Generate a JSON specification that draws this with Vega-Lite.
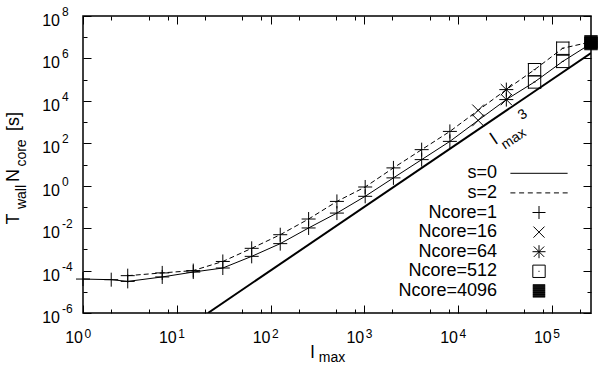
{
  "$schema": "https://vega.github.io/schema/vega-lite/v6.json",
  "width": 508,
  "height": 297,
  "autosize": {"type": "none"},
  "padding": {"left": 83, "top": 16, "right": 9, "bottom": 63},
  "background": "white",
  "config": {
    "font": "Liberation Sans",
    "view": {"stroke": "black", "strokeWidth": 1.5},
    "axis": {
      "grid": false,
      "domain": false,
      "labelColor": "black",
      "titleColor": "black",
      "tickColor": "black",
      "tickWidth": 1,
      "titleFontWeight": "normal",
      "labelFont": "Liberation Sans",
      "titleFont": "Liberation Sans",
      "labelOverlap": false,
      "labelFlush": false,
      "labelBound": false
    }
  },
  "data": {
    "values": [
      {"l": 1, "T": 3.98e-5, "s": 0, "key": "Ncore=1"},
      {"l": 2, "T": 3.72e-5, "s": 0, "key": "Ncore=1"},
      {"l": 3, "T": 3.09e-5, "s": 0, "key": "Ncore=1"},
      {"l": 7, "T": 5.01e-5, "s": 0, "key": "Ncore=1"},
      {"l": 15, "T": 8.51e-5, "s": 0, "key": "Ncore=1"},
      {"l": 31, "T": 1.32e-4, "s": 0, "key": "Ncore=1"},
      {"l": 63, "T": 4.68e-4, "s": 0, "key": "Ncore=1"},
      {"l": 127, "T": 1.86e-3, "s": 0, "key": "Ncore=1"},
      {"l": 255, "T": 1.02e-2, "s": 0, "key": "Ncore=1"},
      {"l": 511, "T": 5.13e-2, "s": 0, "key": "Ncore=1"},
      {"l": 1023, "T": 0.316, "s": 0, "key": "Ncore=1"},
      {"l": 2047, "T": 2.34, "s": 0, "key": "Ncore=1"},
      {"l": 4095, "T": 17.0, "s": 0, "key": "Ncore=1"},
      {"l": 8191, "T": 123, "s": 0, "key": "Ncore=1"},
      {"l": 16383, "T": 1202, "s": 0, "key": "Ncore=16"},
      {"l": 32767, "T": 11480, "s": 0, "key": "Ncore=64"},
      {"l": 65535, "T": 77600, "s": 0, "key": "Ncore=512"},
      {"l": 131071, "T": 724000, "s": 0, "key": "Ncore=512"},
      {"l": 262143, "T": 5010000, "s": 0, "key": "Ncore=4096"},
      {"l": 3, "T": 5.75e-5, "s": 2, "key": "Ncore=1"},
      {"l": 7, "T": 7.76e-5, "s": 2, "key": "Ncore=1"},
      {"l": 15, "T": 1.0e-4, "s": 2, "key": "Ncore=1"},
      {"l": 31, "T": 2.69e-4, "s": 2, "key": "Ncore=1"},
      {"l": 63, "T": 1.12e-3, "s": 2, "key": "Ncore=1"},
      {"l": 127, "T": 4.90e-3, "s": 2, "key": "Ncore=1"},
      {"l": 255, "T": 2.69e-2, "s": 2, "key": "Ncore=1"},
      {"l": 511, "T": 0.182, "s": 2, "key": "Ncore=1"},
      {"l": 1023, "T": 0.871, "s": 2, "key": "Ncore=1"},
      {"l": 2047, "T": 6.92, "s": 2, "key": "Ncore=1"},
      {"l": 4095, "T": 50.1, "s": 2, "key": "Ncore=1"},
      {"l": 8191, "T": 363, "s": 2, "key": "Ncore=1"},
      {"l": 16383, "T": 3548, "s": 2, "key": "Ncore=16"},
      {"l": 32767, "T": 33900, "s": 2, "key": "Ncore=64"},
      {"l": 65535, "T": 295000, "s": 2, "key": "Ncore=512"},
      {"l": 131071, "T": 3020000, "s": 2, "key": "Ncore=512"},
      {"l": 262143, "T": 6030000, "s": 2, "key": "Ncore=4096"}
    ]
  },
  "resolve": {"axis": {"x": "independent", "y": "independent"}},
  "layer": [
    {
      "data": {"values": [{"l": 21.54, "T": 1e-6}, {"l": 262144, "T": 1800000}]},
      "mark": {"type": "line", "color": "black", "strokeWidth": 2, "clip": true},
      "encoding": {
        "x": {"field": "l", "type": "quantitative", "scale": {"type": "log", "domain": [1, 262144], "nice": false},
          "axis": {"orient": "bottom", "values": [1, 10, 100, 1000, 10000, 100000], "labels": false, "ticks": true, "tickSize": -8,
            "title": "l", "titleX": 229, "titleY": 44, "titleFontSize": 18, "titleAlign": "center", "titleBaseline": "alphabetic", "titleAngle": 0}},
        "y": {"field": "T", "type": "quantitative", "scale": {"type": "log", "domain": [1e-6, 1e8], "nice": false},
          "axis": {"orient": "left", "values": [1e-6, 1e-4, 0.01, 1, 100, 10000, 1000000, 100000000], "labels": false, "ticks": true, "tickSize": -8,
            "title": "T", "titleX": -64.5, "titleY": 202.5, "titleFontSize": 18, "titleAngle": 270, "titleAlign": "center", "titleBaseline": "alphabetic"}}
      }
    },
    {
      "transform": [{"filter": "datum.s == 0"}],
      "mark": {"type": "line", "color": "black", "strokeWidth": 1},
      "encoding": {
        "x": {"field": "l", "type": "quantitative", "scale": {"type": "log", "domain": [1, 262144], "nice": false},
          "axis": {"orient": "bottom", "values": [2, 5, 8, 20, 50, 80, 200, 500, 800, 2000, 5000, 8000, 20000, 50000, 80000, 200000], "labels": false, "ticks": true, "tickSize": -4, "title": null}},
        "y": {"field": "T", "type": "quantitative", "scale": {"type": "log", "domain": [1e-6, 1e8], "nice": false},
          "axis": {"orient": "left", "values": [1e-5, 1e-3, 0.1, 10, 1000, 100000, 10000000], "labels": false, "ticks": true, "tickSize": -4,
            "title": "N", "titleX": -64.5, "titleY": 159, "titleFontSize": 18, "titleAngle": 270, "titleAlign": "center", "titleBaseline": "alphabetic"}}
      }
    },
    {
      "transform": [{"filter": "datum.s == 2"}],
      "mark": {"type": "line", "color": "black", "strokeWidth": 1, "strokeDash": [5, 3]},
      "encoding": {
        "x": {"field": "l", "type": "quantitative", "scale": {"type": "log", "domain": [1, 262144], "nice": false},
          "axis": {"orient": "top", "values": [1, 10, 100, 1000, 10000, 100000], "labels": false, "ticks": true, "tickSize": -8, "title": null}},
        "y": {"field": "T", "type": "quantitative", "scale": {"type": "log", "domain": [1e-6, 1e8], "nice": false},
          "axis": {"orient": "right", "values": [1e-6, 1e-4, 0.01, 1, 100, 10000, 1000000, 100000000], "labels": false, "ticks": true, "tickSize": -8,
            "title": "core", "titleX": -566, "titleY": 136.5, "titleFontSize": 14, "titleAngle": 270, "titleAlign": "center", "titleBaseline": "alphabetic"}}
      }
    },
    {
      "mark": {"type": "point", "filled": false, "color": "black", "stroke": "black", "strokeWidth": 1, "opacity": 1, "size": 169, "strokeCap": "square"},
      "encoding": {
        "x": {"field": "l", "type": "quantitative", "scale": {"type": "log", "domain": [1, 262144], "nice": false},
          "axis": {"orient": "top", "values": [2, 5, 8, 20, 50, 80, 200, 500, 800, 2000, 5000, 8000, 20000, 50000, 80000, 200000], "labels": false, "ticks": true, "tickSize": -4, "title": null}},
        "y": {"field": "T", "type": "quantitative", "scale": {"type": "log", "domain": [1e-6, 1e8], "nice": false},
          "axis": {"orient": "right", "values": [1e-5, 1e-3, 0.1, 10, 1000, 100000, 10000000], "labels": false, "ticks": true, "tickSize": -4,
            "title": "[s]", "titleX": -572.5, "titleY": 105, "titleFontSize": 18, "titleAngle": 270, "titleAlign": "center", "titleBaseline": "alphabetic"}},
        "shape": {"field": "key", "type": "nominal",
          "scale": {
            "domain": ["s=0", "s=2", "Ncore=1", "Ncore=16", "Ncore=64", "Ncore=512", "Ncore=4096"],
            "range": [
              "M-4.4,0H4.4",
              "M-4.4,0H-3.63M-3.06,0H-2.29M-1.72,0H-0.95M-0.38,0H0.39M0.96,0H1.73M2.3,0H3.07M3.64,0H4.41",
              "M-1,0H1M0,-1V1",
              "M-0.85,-0.85L0.85,0.85M-0.85,0.85L0.85,-0.85",
              "M-1,0H1M0,-1V1M-0.8,-0.8L0.8,0.8M-0.8,0.8L0.8,-0.8",
              "M-0.95,-0.95H0.95M0.95,-0.95V0.95M0.95,0.95H-0.95M-0.95,0.95V-0.95M-0.08,0H0.08",
              "M-0.95,-0.95H0.95M-0.95,-0.85H0.95M-0.95,-0.75H0.95M-0.95,-0.65H0.95M-0.95,-0.55H0.95M-0.95,-0.45H0.95M-0.95,-0.35H0.95M-0.95,-0.25H0.95M-0.95,-0.15H0.95M-0.95,-0.05H0.95M-0.95,0.05H0.95M-0.95,0.15H0.95M-0.95,0.25H0.95M-0.95,0.35H0.95M-0.95,0.45H0.95M-0.95,0.55H0.95M-0.95,0.65H0.95M-0.95,0.75H0.95M-0.95,0.85H0.95M-0.95,0.95H0.95"
            ]
          },
          "legend": {
            "orient": "none", "legendX": 447, "legendY": 148.3, "title": null, "padding": 0,
            "symbolSize": 169, "symbolStrokeWidth": 1, "symbolStrokeColor": "black", "symbolOpacity": 1,
            "labelAlign": "right", "labelOffset": -51, "labelFontSize": 18, "labelFont": "Liberation Sans", "labelColor": "black",
            "rowPadding": 1.6, "labelLimit": 0,
            "encode": {
              "symbols": {
                "update": {
                  "stroke": {"value": "black"},
                  "strokeWidth": {"value": 1},
                  "opacity": {"value": 1},
                  "strokeCap": {"value": "square"}
                }
              }
            }
          }
        }
      }
    },
    {
      "data": {"values": [{"l": 24440, "T": 148, "label": "l"}]},
      "mark": {"type": "text", "angle": -34, "fontSize": 18, "font": "Liberation Sans", "align": "center", "baseline": "middle", "color": "black"},
      "encoding": {
        "x": {"field": "l", "type": "quantitative", "scale": {"type": "log", "domain": [1, 262144], "nice": false},
          "axis": {"orient": "bottom", "values": [1, 10, 100, 1000, 10000, 100000], "ticks": false, "labelExpr": "'10'", "labelAlign": "right", "labelBaseline": "alphabetic", "labelPadding": 29, "labelOffset": -0.5, "labelFontSize": 16, "title": null}},
        "y": {"field": "T", "type": "quantitative", "scale": {"type": "log", "domain": [1e-6, 1e8], "nice": false},
          "axis": {"orient": "left", "values": [1e-6, 1e-4, 0.01, 1, 100, 10000, 1000000, 100000000], "ticks": false, "labelExpr": "'10'", "labelAlign": "right", "labelBaseline": "middle", "labelPadding": 23.5, "labelOffset": 4.5, "labelFontSize": 16, "title": null}},
        "text": {"field": "label", "type": "nominal"}
      }
    },
    {
      "data": {"values": [{"l": 39350, "T": 160, "label": "max"}]},
      "mark": {"type": "text", "angle": -34, "fontSize": 14, "font": "Liberation Sans", "align": "center", "baseline": "middle", "color": "black"},
      "encoding": {
        "x": {"field": "l", "type": "quantitative", "scale": {"type": "log", "domain": [1, 262144], "nice": false},
          "axis": {"orient": "bottom", "values": [1, 10, 100, 1000, 10000, 100000], "ticks": false, "labelExpr": "'' + round(log(datum.value)/LN10)", "labelAlign": "left", "labelBaseline": "alphabetic", "labelPadding": 24, "labelOffset": 1, "labelFontSize": 12,
            "title": "max", "titleX": 248.5, "titleY": 48, "titleFontSize": 14, "titleAlign": "center", "titleBaseline": "alphabetic", "titleAngle": 0}},
        "y": {"field": "T", "type": "quantitative", "scale": {"type": "log", "domain": [1e-6, 1e8], "nice": false},
          "axis": {"orient": "left", "values": [1e-6, 1e-4, 0.01, 1, 100, 10000, 1000000, 100000000], "ticks": false, "labelExpr": "'' + round(log(datum.value)/LN10)", "labelAlign": "left", "labelBaseline": "middle", "labelPadding": 21.5, "labelOffset": -4.5, "labelFontSize": 12,
            "title": "wall", "titleX": -58, "titleY": 180.5, "titleFontSize": 14, "titleAngle": 270, "titleAlign": "center", "titleBaseline": "alphabetic"}},
        "text": {"field": "label", "type": "nominal"}
      }
    },
    {
      "data": {"values": [{"l": 49090, "T": 2234, "label": "3"}]},
      "mark": {"type": "text", "angle": -34, "fontSize": 14, "font": "Liberation Sans", "align": "center", "baseline": "middle", "color": "black"},
      "encoding": {
        "x": {"field": "l", "type": "quantitative", "scale": {"type": "log", "domain": [1, 262144], "nice": false}, "axis": null},
        "y": {"field": "T", "type": "quantitative", "scale": {"type": "log", "domain": [1e-6, 1e8], "nice": false}, "axis": null},
        "text": {"field": "label", "type": "nominal"}
      }
    }
  ]
}
